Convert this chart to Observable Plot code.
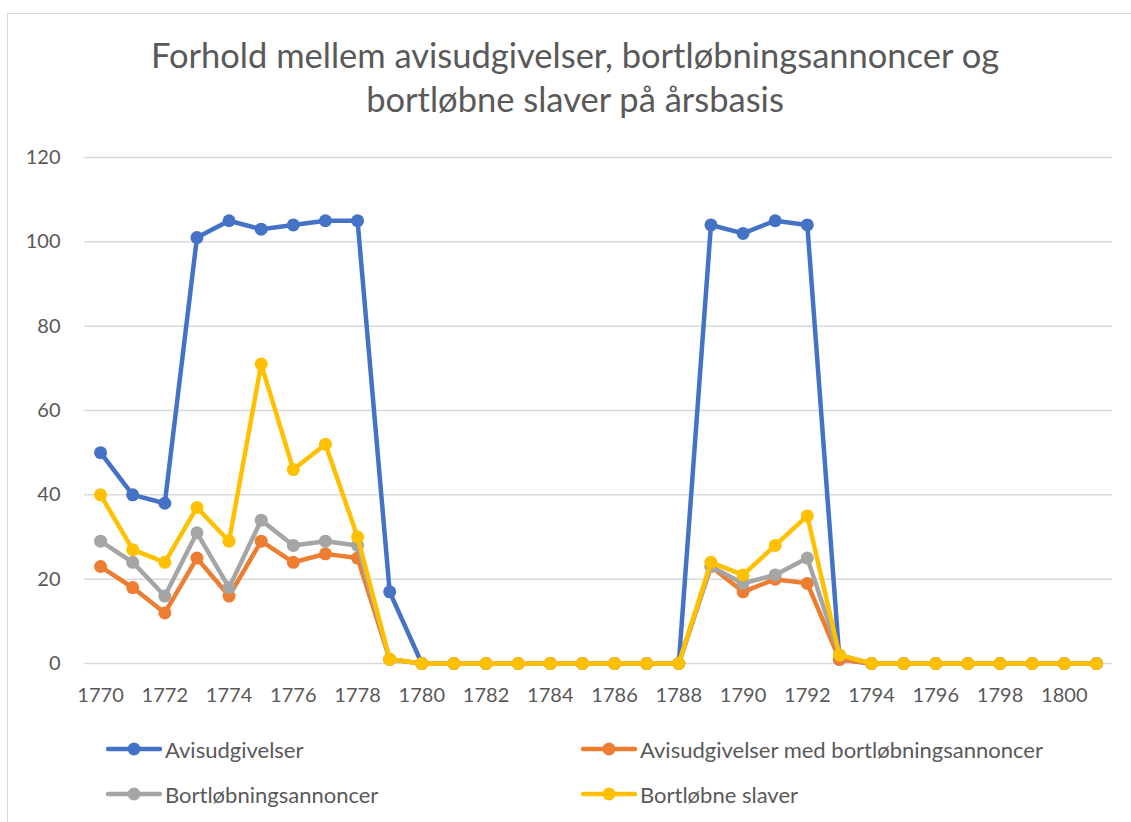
<!DOCTYPE html>
<html>
<head>
<meta charset="utf-8">
<script src="https://cdn.jsdelivr.net/npm/d3@7"></script>
<script src="https://cdn.jsdelivr.net/npm/@observablehq/plot@0.6"></script>
<style>
  html, body { margin: 0; padding: 0; background: #fff; }
  body { width: 1131px; height: 822px; position: relative; overflow: hidden; font-family: Lato, "Open Sans", sans-serif; color: #595959; }
  #frame { position: absolute; left: 7px; top: 13px; width: 1140px; height: 820px; border-left: 1.5px solid #d9d9d9; border-top: 1.5px solid #d9d9d9; }
  #title { position: absolute; left: 0; top: 33px; width: 1150px; text-align: center; font-size: 34.5px; line-height: 44px; color: #595959; }
  #chart { position: absolute; left: 0; top: 140px; }
  .leg { position: absolute; display: flex; align-items: center; font-size: 22px; color: #595959; height: 26px; }
  .leg svg { margin-right: 3px; }
</style>
</head>
<body>
<div id="frame"></div>
<div id="title">Forhold mellem avisudgivelser, bortløbningsannoncer og<br>bortløbne slaver på årsbasis</div>
<div id="chart"></div>
<div id="legend"></div>
<script>
const years = [1770,1771,1772,1773,1774,1775,1776,1777,1778,1779,1780,1781,1782,1783,1784,1785,1786,1787,1788,1789,1790,1791,1792,1793,1794,1795,1796,1797,1798,1799,1800,1801];
const avisudgivelser = [50,40,38,101,105,103,104,105,105,17,0,0,0,0,0,0,0,0,0,104,102,105,104,1,0,0,0,0,0,0,0,0];
const medAnnoncer = [23,18,12,25,16,29,24,26,25,1,0,0,0,0,0,0,0,0,0,23,17,20,19,1,0,0,0,0,0,0,0,0];
const annoncer = [29,24,16,31,18,34,28,29,28,1,0,0,0,0,0,0,0,0,0,23,19,21,25,2,0,0,0,0,0,0,0,0];
const slaver = [40,27,24,37,29,71,46,52,30,1,0,0,0,0,0,0,0,0,0,24,21,28,35,2,0,0,0,0,0,0,0,0];
const seriesNames = ["Avisudgivelser","Avisudgivelser med bortløbningsannoncer","Bortløbningsannoncer","Bortløbne slaver"];
const seriesColors = ["#4472C4","#ED7D31","#A5A5A5","#FFC000"];
const xTicks = [1770,1772,1774,1776,1778,1780,1782,1784,1786,1788,1790,1792,1794,1796,1798,1800];
const yTicks = [0,20,40,60,80,100,120];

const seriesValues = [avisudgivelser, medAnnoncer, annoncer, slaver];
const tables = seriesValues.map((vals, i) => years.map((y, j) => ({year: y, value: vals[j], series: seriesNames[i]})));

const marks = [
  Plot.ruleY(yTicks, {stroke: "#d9d9d9", strokeWidth: 1.5}),
  Plot.axisY({ticks: yTicks, tickSize: 0, tickPadding: 24, fill: "#595959", label: null}),
  Plot.axisX({ticks: xTicks, tickSize: 0, tickPadding: 24, fill: "#595959", label: null, tickFormat: d => String(d)})
];
tables.forEach((t, i) => {
  marks.push(Plot.line(t, {x: "year", y: "value", stroke: seriesColors[i], strokeWidth: 4.5, strokeLinejoin: "round", strokeLinecap: "round"}));
  marks.push(Plot.dot(t, {x: "year", y: "value", r: 6.5, fill: seriesColors[i], stroke: "none"}));
});

const chart = Plot.plot({
  width: 1131,
  height: 575,
  marginLeft: 84,
  marginRight: 19,
  marginTop: 17,
  marginBottom: 52,
  style: {fontFamily: "Lato, 'Open Sans', sans-serif", fontSize: "20px", color: "#595959", background: "transparent"},
  x: {domain: [1769.5, 1801.5]},
  y: {domain: [0, 120]},
  marks
});
document.getElementById("chart").appendChild(chart);

const legendPos = [[106, 736], [581, 736], [106, 781], [581, 781]];
const legend = document.getElementById("legend");
seriesNames.forEach((name, i) => {
  const d = document.createElement("div");
  d.className = "leg";
  d.style.left = legendPos[i][0] + "px";
  d.style.top = legendPos[i][1] + "px";
  const c = seriesColors[i];
  d.innerHTML = `<svg width="56" height="16"><line x1="2" y1="8" x2="54" y2="8" stroke="${c}" stroke-width="4.5" stroke-linecap="round"/><circle cx="28" cy="8" r="6.5" fill="${c}"/></svg><span>${name}</span>`;
  legend.appendChild(d);
});
</script>
</body>
</html>
